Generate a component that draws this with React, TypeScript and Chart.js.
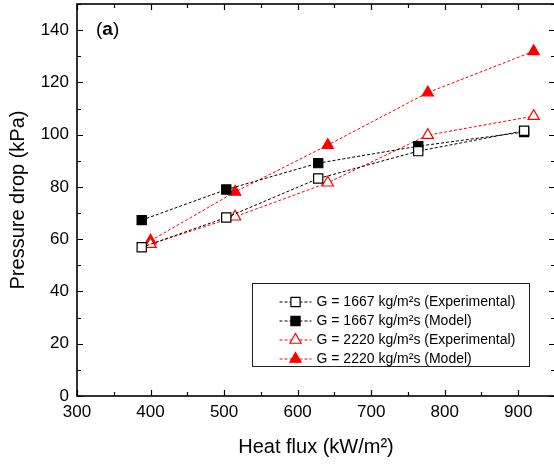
import React, { useEffect, useRef } from 'react';
import { Chart, registerables } from 'chart.js';

Chart.register(...registerables);

// ---- Data ----
const heatFlux1667 = [388, 503, 628, 764, 908];
const dropExp1667 = [56.9, 68.3, 83.2, 93.7, 101.5];
const dropModel1667 = [67.3, 79.0, 89.1, 95.6, 101.0];

const heatFlux2220 = [400, 515, 641, 777, 921];
const dropExp2220 = [58.1, 68.6, 81.6, 99.8, 107.1];
const dropModel2220 = [59.4, 78.1, 96.0, 116.1, 131.9];

const seriesLabels = [
  'G = 1667 kg/m²s (Experimental)',
  'G = 1667 kg/m²s (Model)',
  'G = 2220 kg/m²s (Experimental)',
  'G = 2220 kg/m²s (Model)',
];

const xTitle = 'Heat flux (kW/m²)';
const yTitle = 'Pressure drop (kPa)';
const panelLabel = ['(', 'a', ')'];

const X_MIN = 300;
const X_MAX = 950;
const X_STEP = 100;
const Y_MIN = 0;
const Y_MAX = 150;
const Y_STEP = 20;

const FONT = '"Liberation Sans", Arial, Helvetica, sans-serif';

const W = 556;
const H = 466;

function drawMarker(ctx: CanvasRenderingContext2D, style: string, x: number, y: number, r: number, fill: string, stroke: string, lw: number) {
  ctx.save();
  ctx.beginPath();
  if (style === 'rect') {
    const s = Math.SQRT1_2 * r;
    ctx.rect(x - s, y - s, 2 * s, 2 * s);
  } else {
    let rad = 0;
    ctx.moveTo(x + Math.sin(rad) * r, y - Math.cos(rad) * r);
    rad += (2 * Math.PI) / 3;
    ctx.lineTo(x + Math.sin(rad) * r, y - Math.cos(rad) * r);
    rad += (2 * Math.PI) / 3;
    ctx.lineTo(x + Math.sin(rad) * r, y - Math.cos(rad) * r);
    ctx.closePath();
  }
  ctx.fillStyle = fill;
  ctx.fill();
  ctx.lineWidth = lw;
  ctx.strokeStyle = stroke;
  ctx.stroke();
  ctx.restore();
}

const frameTicksPlugin = {
  id: 'frameTicks',
  afterDraw(chart: any) {
    const { ctx, chartArea: a, scales } = chart;
    const xs = scales.x;
    const ys = scales.y;
    ctx.save();
    ctx.strokeStyle = '#000';
    ctx.lineWidth = 1.2;
    ctx.beginPath();
    for (let v = X_MIN; v <= X_MAX; v += X_STEP / 2) {
      const major = (v - X_MIN) % X_STEP === 0;
      const len = major ? 6 : 4;
      const px = Math.round(xs.getPixelForValue(v)) + 0.5;
      ctx.moveTo(px, a.bottom);
      ctx.lineTo(px, a.bottom - len);
      ctx.moveTo(px, a.top);
      ctx.lineTo(px, a.top + len);
    }
    for (let v = Y_MIN; v <= Y_MAX; v += Y_STEP / 2) {
      const major = (v - Y_MIN) % Y_STEP === 0;
      const len = major ? 6 : 4;
      const py = Math.round(ys.getPixelForValue(v)) + 0.5;
      ctx.moveTo(a.left, py);
      ctx.lineTo(a.left + len, py);
      ctx.moveTo(a.right, py);
      ctx.lineTo(a.right - len, py);
    }
    ctx.stroke();
    ctx.lineWidth = 1.6;
    ctx.strokeRect(a.left, a.top, a.right - a.left, a.bottom - a.top);

    // panel label "(a)"
    ctx.fillStyle = '#000';
    ctx.textBaseline = 'middle';
    ctx.textAlign = 'left';
    let x = a.left + 19;
    const y = ys.getPixelForValue(140);
    ctx.font = `19px ${FONT}`;
    ctx.fillText(panelLabel[0], x, y);
    x += ctx.measureText(panelLabel[0]).width;
    ctx.font = `bold 19px ${FONT}`;
    ctx.fillText(panelLabel[1], x, y);
    x += ctx.measureText(panelLabel[1]).width;
    ctx.font = `19px ${FONT}`;
    ctx.fillText(panelLabel[2], x, y);
    ctx.restore();
  },
};

const boxLegendPlugin = {
  id: 'boxLegend',
  afterDraw(chart: any) {
    const { ctx } = chart;
    const bx = 252.5;
    const by = 283.5;
    const bw = 277;
    const bh = 83;
    ctx.save();
    ctx.fillStyle = '#fff';
    ctx.fillRect(bx, by, bw, bh);
    ctx.strokeStyle = '#222';
    ctx.lineWidth = 1;
    ctx.strokeRect(bx, by, bw, bh);
    chart.data.datasets.forEach((ds: any, i: number) => {
      const cy = by + 18.5 + i * 19;
      ctx.save();
      ctx.strokeStyle = ds.borderColor;
      ctx.lineWidth = ds.borderWidth;
      ctx.setLineDash(ds.borderDash);
      ctx.beginPath();
      ctx.moveTo(bx + 27, cy);
      ctx.lineTo(bx + 59, cy);
      ctx.stroke();
      ctx.restore();
      drawMarker(ctx, ds.pointStyle, bx + 43, cy, ds.pointRadius, ds.pointBackgroundColor, ds.pointBorderColor, ds.pointBorderWidth);
      ctx.fillStyle = '#000';
      ctx.font = `14px ${FONT}`;
      ctx.textBaseline = 'middle';
      ctx.textAlign = 'left';
      ctx.fillText(ds.label, bx + 64, cy);
    });
    ctx.restore();
  },
};

function makeSeries(label: string, xs: number[], ys: number[], color: string, style: string, filled: boolean) {
  return {
    label,
    data: xs.map((x, i) => ({ x, y: ys[i] })),
    borderColor: color,
    borderWidth: 1,
    borderDash: [3, 2],
    pointStyle: style,
    pointRadius: 6.5,
    pointHoverRadius: 6.5,
    pointBackgroundColor: filled ? color : '#fff',
    pointBorderColor: color,
    pointBorderWidth: 1.2,
    showLine: true,
    fill: false,
    tension: 0,
  };
}

export default function App() {
  const ref = useRef<HTMLCanvasElement | null>(null);

  useEffect(() => {
    if (!ref.current) return;
    const chart = new Chart(ref.current, {
      type: 'line',
      data: {
        datasets: [
          makeSeries(seriesLabels[0], heatFlux1667, dropExp1667, '#000000', 'rect', false),
          makeSeries(seriesLabels[1], heatFlux1667, dropModel1667, '#000000', 'rect', true),
          makeSeries(seriesLabels[2], heatFlux2220, dropExp2220, '#ff0000', 'triangle', false),
          makeSeries(seriesLabels[3], heatFlux2220, dropModel2220, '#ff0000', 'triangle', true),
        ] as any,
      },
      options: {
        responsive: false,
        animation: false,
        devicePixelRatio: 1,
        layout: { autoPadding: false, padding: { top: 4, right: 1, left: 0, bottom: 0 } },
        plugins: {
          legend: { display: false },
          tooltip: { enabled: false },
        },
        scales: {
          x: {
            type: 'linear',
            min: X_MIN,
            max: X_MAX,
            afterFit: (s: any) => {
              s.height = 70;
              s.paddingLeft = 0;
              s.paddingRight = 0;
            },
            grid: { display: false, drawTicks: false },
            border: { display: false },
            ticks: {
              stepSize: X_STEP,
              includeBounds: false,
              autoSkip: false,
              maxRotation: 0,
              padding: 6,
              color: '#000',
              font: { family: FONT, size: 17 },
            },
            title: {
              display: true,
              text: xTitle,
              color: '#000',
              font: { family: FONT, size: 20 },
              padding: { top: 0, bottom: 7 },
            },
          },
          y: {
            type: 'linear',
            min: Y_MIN,
            max: Y_MAX,
            afterFit: (s: any) => {
              s.width = 77;
              s.paddingTop = 0;
              s.paddingBottom = 0;
            },
            grid: { display: false, drawTicks: false },
            border: { display: false },
            ticks: {
              stepSize: Y_STEP,
              includeBounds: false,
              padding: 8,
              color: '#000',
              font: { family: FONT, size: 17 },
            },
            title: {
              display: true,
              text: yTitle,
              color: '#000',
              font: { family: FONT, size: 20 },
              padding: { top: 6, bottom: 0 },
            },
          },
        },
      } as any,
      plugins: [frameTicksPlugin, boxLegendPlugin],
    });
    return () => chart.destroy();
  }, []);

  return (
    <div style={{ position: 'fixed', left: 0, top: 0, width: 554, height: 466, overflow: 'hidden', background: '#fff' }}>
      <canvas ref={ref} width={W} height={H} style={{ display: 'block', width: W, height: H }} />
    </div>
  );
}
